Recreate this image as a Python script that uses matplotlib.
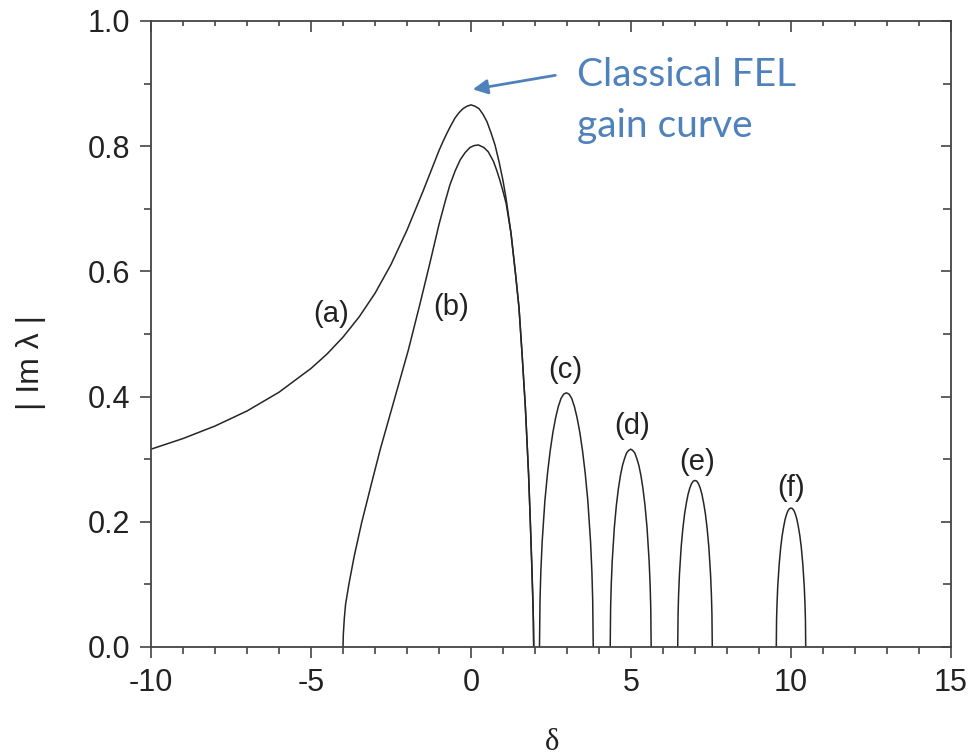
import matplotlib
matplotlib.use("Agg")
import matplotlib.pyplot as plt
from matplotlib.ticker import MultipleLocator

# ---------------- data ----------------
a_delta = [-10, -9, -8, -7, -6, -5, -4.5, -4, -3.5, -3, -2.5, -2, -1.5, -1, -0.875, -0.75,
           -0.625, -0.5, -0.375, -0.25, -0.12, 0, 0.12, 0.25, 0.375, 0.5, 0.625, 0.75,
           0.875, 1.0, 1.1, 1.25, 1.4, 1.5, 1.6, 1.7, 1.8, 1.85, 1.9, 1.93, 1.95, 1.96]
a_im = [0.316, 0.333, 0.353, 0.377, 0.407, 0.445, 0.468, 0.495, 0.527, 0.565, 0.611, 0.666,
        0.728, 0.793, 0.8075, 0.821, 0.8335, 0.845, 0.8535, 0.860, 0.864, 0.866, 0.864,
        0.860, 0.851, 0.839, 0.8215, 0.802, 0.7755, 0.745, 0.715, 0.661, 0.592, 0.542,
        0.465, 0.382, 0.275, 0.205, 0.130, 0.080, 0.040, 0.0]

b_delta = [-4.0, -3.99, -3.96, -3.92, -3.81, -3.65, -3.42, -3.13, -2.84, -2.375, -1.96,
           -1.60, -1.30, -1.00, -0.80, -0.66, -0.50, -0.34, -0.18, -0.03, 0.10, 0.23, 0.40,
           0.54, 0.70, 0.80, 0.90, 1.00, 1.10, 1.25, 1.4, 1.5, 1.6, 1.7, 1.8, 1.85, 1.9,
           1.93, 1.95, 1.96]
b_im = [0.0, 0.020, 0.045, 0.068, 0.102, 0.145, 0.198, 0.257, 0.315, 0.399, 0.474,
        0.547, 0.610, 0.675, 0.713, 0.738, 0.760, 0.778, 0.790, 0.798, 0.801, 0.802, 0.798,
        0.791, 0.776, 0.762, 0.746, 0.728, 0.708, 0.661, 0.592, 0.542, 0.465, 0.382, 0.275,
        0.205, 0.130, 0.080, 0.040, 0.0]

c_delta = [2.140, 2.157, 2.182, 2.224, 2.308, 2.392, 2.476, 2.560, 2.644, 2.728, 2.812,
           2.896, 2.980, 3.064, 3.148, 3.232, 3.316, 3.400, 3.484, 3.568, 3.652, 3.736,
           3.778, 3.803, 3.820]
c_im = [0.0, 0.075, 0.120, 0.168, 0.233, 0.278, 0.314, 0.343, 0.366, 0.384, 0.397, 0.404,
        0.406, 0.404, 0.397, 0.384, 0.366, 0.343, 0.314, 0.278, 0.233, 0.168, 0.120, 0.075, 0.0]

d_delta = [4.350, 4.363, 4.382, 4.414, 4.478, 4.542, 4.606, 4.670, 4.734, 4.798, 4.862,
           4.926, 4.990, 5.054, 5.118, 5.182, 5.246, 5.310, 5.374, 5.438, 5.502, 5.566,
           5.598, 5.617, 5.630]
d_im = [0.0, 0.063, 0.099, 0.138, 0.190, 0.226, 0.253, 0.274, 0.290, 0.301, 0.310, 0.314,
        0.316, 0.314, 0.310, 0.301, 0.290, 0.274, 0.253, 0.226, 0.190, 0.138, 0.099, 0.063, 0.0]

e_delta = [6.460, 6.471, 6.487, 6.514, 6.568, 6.622, 6.676, 6.730, 6.784, 6.838, 6.892,
           6.946, 7.000, 7.054, 7.108, 7.162, 7.216, 7.270, 7.324, 7.378, 7.432, 7.486,
           7.513, 7.529, 7.540]
e_im = [0.0, 0.053, 0.083, 0.116, 0.160, 0.190, 0.213, 0.230, 0.244, 0.254, 0.261, 0.265,
        0.266, 0.265, 0.261, 0.254, 0.244, 0.230, 0.213, 0.190, 0.160, 0.116, 0.083, 0.053, 0.0]

f_delta = [9.540, 9.549, 9.563, 9.586, 9.632, 9.678, 9.724, 9.770, 9.816, 9.862, 9.908,
           9.954, 10.000, 10.046, 10.092, 10.138, 10.184, 10.230, 10.276, 10.322, 10.368,
           10.414, 10.437, 10.451, 10.460]
f_im = [0.0, 0.044, 0.069, 0.097, 0.133, 0.159, 0.178, 0.192, 0.204, 0.212, 0.218, 0.221,
        0.222, 0.221, 0.218, 0.212, 0.204, 0.192, 0.178, 0.159, 0.133, 0.097, 0.069, 0.044, 0.0]

curve_labels = ["(a)", "(b)", "(c)", "(d)", "(e)", "(f)"]
label_x = [-4.36, -0.62, 2.94, 5.02, 7.08, 10.0]
label_y = [0.532, 0.543, 0.4425, 0.353, 0.2955, 0.254]

x_ticks = [-10, -5, 0, 5, 10, 15]
y_ticks = [0.0, 0.2, 0.4, 0.6, 0.8, 1.0]
y_tick_labels = ["0.0", "0.2", "0.4", "0.6", "0.8", "1.0"]

annot_text = "Classical FEL\ngain curve"

# ---------------- figure ----------------
plt.rcParams['font.family'] = ['Liberation Sans', 'DejaVu Sans']
fig = plt.figure(figsize=(9.68, 7.56), dpi=100)
ax = fig.add_axes([151 / 968, 1 - 647 / 756, 800 / 968, 626 / 756])

line_kw = dict(color='#262626', lw=1.1, solid_joinstyle='round')
for xs, ys in [(a_delta, a_im), (b_delta, b_im), (c_delta, c_im),
               (d_delta, d_im), (e_delta, e_im), (f_delta, f_im)]:
    ax.plot(xs, ys, **line_kw)

for t, x, y in zip(curve_labels, label_x, label_y):
    ax.text(x, y, t, ha='center', va='center', fontsize=21, color='#222222')

ax.set_xlim(-10, 15)
ax.set_ylim(0, 1)
ax.set_xticks(x_ticks)
ax.set_xticklabels([str(v) for v in x_ticks])
ax.set_yticks(y_ticks)
ax.set_yticklabels(y_tick_labels)
ax.xaxis.set_minor_locator(MultipleLocator(1))
ax.yaxis.set_minor_locator(MultipleLocator(0.1))

spine_col = '#444444'
for s in ax.spines.values():
    s.set_color(spine_col)
    s.set_linewidth(1.3)

ax.tick_params(which='both', direction='out', color=spine_col, width=1.2,
               labelsize=22, labelcolor='#222222', top=False, right=False)
ax.tick_params(which='major', length=7.9, pad=7)
ax.tick_params(which='minor', length=5)

# inward ticks on top and right
secx = ax.secondary_xaxis('top')
secx.set_xticks(x_ticks)
secx.xaxis.set_minor_locator(MultipleLocator(1))
secx.tick_params(which='both', direction='in', color=spine_col, width=1.2, labeltop=False)
secx.tick_params(which='major', length=7.9)
secx.tick_params(which='minor', length=3.5)
secx.spines['top'].set_visible(False)

secy = ax.secondary_yaxis('right')
secy.set_yticks(y_ticks)
secy.yaxis.set_minor_locator(MultipleLocator(0.1))
secy.tick_params(which='both', direction='in', color=spine_col, width=1.2, labelright=False)
secy.tick_params(which='major', length=7.5)
secy.tick_params(which='minor', length=6)
secy.spines['right'].set_visible(False)

# axis labels
fig.text(552 / 968, 1 - 743 / 756, "δ", ha='center', va='center', fontsize=22,
         family=['Liberation Serif', 'DejaVu Serif'], color='#222222')
fig.text(31 / 968, 1 - 362 / 756, "| Im λ |", ha='center', va='center', rotation=90,
         fontsize=23, color='#222222')

# annotation
blue = '#4F81BD'
ax.annotate('', xy=(-0.03, 0.89), xytext=(2.72, 0.914),
            arrowprops=dict(arrowstyle='-|>', color=blue, lw=2, mutation_scale=22))
ax.text(3.31, 0.815, annot_text, ha='left', va='baseline', fontsize=28, color=blue,
        family=['Lato', 'DejaVu Sans'], linespacing=1.5)

fig.savefig("out.png", dpi=100)
